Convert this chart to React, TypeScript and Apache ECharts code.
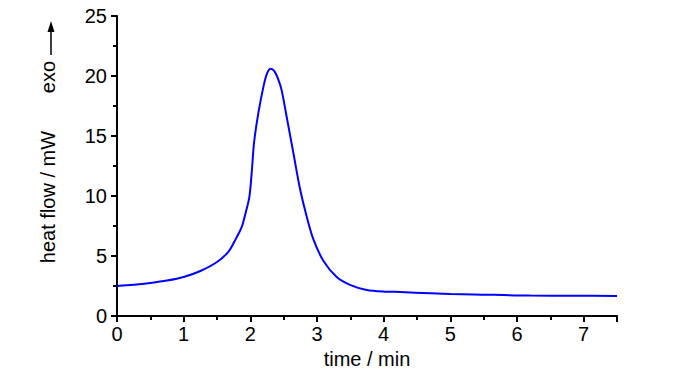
import React, { useEffect, useRef } from "react";
import * as echarts from "echarts";

const timeMin: number[] = [
  0, 0.25, 0.5, 0.75, 1.0, 1.25, 1.5, 1.67, 1.77, 1.87, 1.93, 1.985, 2.02, 2.055, 2.12, 2.2,
  2.25, 2.305, 2.36, 2.42, 2.47, 2.555, 2.645, 2.745, 2.845, 2.945, 3.095, 3.295, 3.495, 3.745,
  4.045, 4.245, 4.7, 5.0, 5.35, 6.2, 6.85, 7.5,
];
const heatFlow: number[] = [
  2.5, 2.6, 2.75, 2.95, 3.25, 3.75, 4.5, 5.35, 6.3, 7.4, 8.6, 9.9, 11.9, 14.4, 16.9, 19.2,
  20.2, 20.6, 20.4, 19.7, 18.8, 16.3, 13.6, 10.6, 8.3, 6.4, 4.6, 3.25, 2.6, 2.17,
  2.03, 2.0, 1.89, 1.83, 1.8, 1.7, 1.69, 1.67,
];

const xName = "time / min";
const yName = "heat flow / mW";
const exoLabel = "exo";

const FONT = "'Liberation Sans', Arial, sans-serif";

export default function App() {
  const ref = useRef<HTMLDivElement>(null);
  useEffect(() => {
    if (!ref.current) return;
    const chart = echarts.init(ref.current, undefined, { renderer: "svg" });
    const axisCommon = {
      axisLine: { show: true, lineStyle: { color: "#000", width: 2 } },
      axisTick: { show: true, inside: false, length: 6, lineStyle: { color: "#000", width: 2 } },
      minorTick: { show: true, splitNumber: 2, length: 4, lineStyle: { color: "#000", width: 2 } },
      splitLine: { show: false },
      axisLabel: { color: "#000", fontFamily: FONT, fontSize: 20 },
    };
    chart.setOption({
      animation: false,
      backgroundColor: "#fff",
      grid: { left: 117, right: 83, top: 16, bottom: 58 },
      xAxis: {
        type: "value",
        min: 0,
        max: 7.5,
        interval: 1,
        name: xName,
        nameLocation: "middle",
        nameGap: 31,
        nameTextStyle: { color: "#000", fontFamily: FONT, fontSize: 20 },
        ...axisCommon,
        axisLabel: {
          ...axisCommon.axisLabel,
          margin: 8,
          formatter: (v: number) => (Number.isInteger(v) ? String(v) : ""),
        },
      },
      yAxis: {
        type: "value",
        min: 0,
        max: 25,
        interval: 5,
        ...axisCommon,
        axisLabel: { ...axisCommon.axisLabel, margin: 10 },
      },
      graphic: [
        {
          type: "text",
          x: 48,
          y: 197,
          rotation: Math.PI / 2,
          style: {
            text: yName,
            font: `20px ${FONT}`,
            fill: "#000",
            align: "center",
            verticalAlign: "middle",
          },
        },
        {
          type: "text",
          x: 48,
          y: 77,
          rotation: Math.PI / 2,
          style: {
            text: exoLabel,
            font: `20px ${FONT}`,
            fill: "#000",
            align: "center",
            verticalAlign: "middle",
          },
        },
        {
          type: "line",
          shape: { x1: 51, y1: 55, x2: 51, y2: 30 },
          style: { stroke: "#000", lineWidth: 1.5 },
        },
        {
          type: "polygon",
          shape: { points: [[47.5, 32], [54.5, 32], [51, 21]] },
          style: { fill: "#000" },
        },
      ],
      series: [
        {
          type: "line",
          data: timeMin.map((t, i) => [t, heatFlow[i]]),
          showSymbol: false,
          smooth: 0.3,
          lineStyle: { color: "#0000ff", width: 2 },
          itemStyle: { color: "#0000ff" },
        },
      ],
    });
    return () => chart.dispose();
  }, []);
  return (
    <div
      ref={ref}
      style={{ position: "fixed", left: 0, top: 0, width: 700, height: 374, background: "#fff" }}
    />
  );
}
